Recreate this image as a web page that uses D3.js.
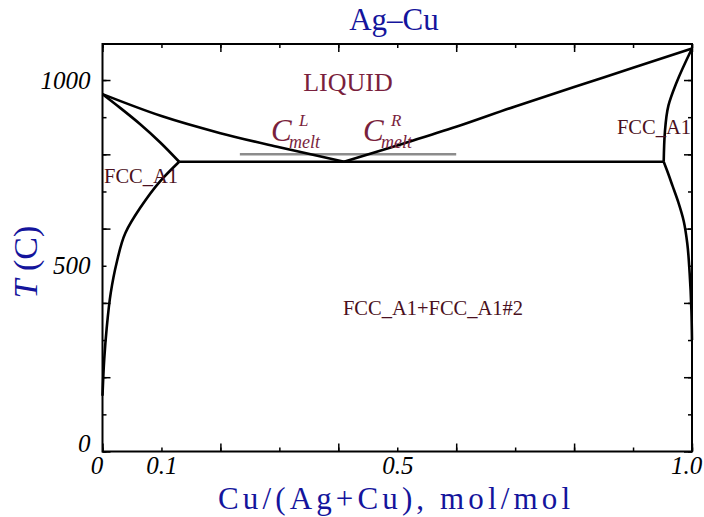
<!DOCTYPE html>
<html>
<head>
<meta charset="utf-8">
<script src="https://cdn.jsdelivr.net/npm/d3@7"></script>
<style>
  body { margin: 0; background: #fff; }
  svg { display: block; font-family: "Liberation Serif", "DejaVu Serif", serif; }
  .axis path { display: none; }
  .axis line { stroke: #000; stroke-width: 1.5; }
  .axis text { font-style: italic; font-size: 25px; fill: #000; font-family: "Liberation Serif", serif; }
</style>
</head>
<body>
<svg id="chart" width="704" height="517"></svg>
<script>
// === DATA ===

// Ag-rich liquidus: Ag melting point down to the eutectic
const liquidusAg = [[0, 962], [0.1, 903], [0.2, 857], [0.3, 819], [0.41, 780]];
// Cu-rich liquidus: eutectic up to Cu melting point
const liquidusCu = [[0.41, 780], [0.5, 824], [0.6, 874], [0.7, 929], [0.8, 981], [0.9, 1033], [1.0, 1085]];
// Ag-rich solidus and solvus (ordered by temperature)
const solidusAg = [[0.13, 780], [0.098, 832], [0.064, 881], [0.03, 925], [0, 962]];
const solvusAg = [[0, 150], [0.003, 250], [0.007, 330], [0.014, 427], [0.024, 508], [0.039, 589], [0.064, 656], [0.098, 728], [0.13, 780]];
// Cu-rich solidus and solvus (ordered by temperature)
const solidusCu = [[0.952, 780], [0.954, 860], [0.96, 931], [0.974, 994], [1.0, 1085]];
const solvusCu = [[1.0, 300], [0.999, 380], [0.996, 480], [0.992, 560], [0.986, 620], [0.977, 670], [0.967, 715], [0.958, 755], [0.952, 780]];
// eutectic isotherm and the grey melt reference line
const eutectic = [[0.13, 780], [0.952, 780]];
const meltLine = [[0.233, 800], [0.6, 800]];

const X_MINOR = d3.range(0, 1.0001, 0.1);
const X_MAJOR = d3.range(0, 1.0001, 0.2);
const X_LABELS = [0, 0.1, 0.5, 1.0];
const Y_MINOR = d3.range(0, 1001, 100);
const Y_MAJOR = d3.range(0, 1001, 200);
const Y_LABELS = [0, 500, 1000];

// === LAYOUT ===

const margin = { top: 44, right: 12, bottom: 65.5, left: 102.5 };
const W = 704, H = 517;
const innerW = W - margin.left - margin.right;
const innerH = H - margin.top - margin.bottom;

const BLUE = '#14149c';
const MAROON = '#7a1f3d';
const DARK = '#4a1020';

const svg = d3.select('#chart');

const x = d3.scaleLinear().domain([0, 1]).range([0, innerW]);
const y = d3.scaleLinear().domain([0, 1097]).range([innerH, 0]);

const g = svg.append('g').attr('transform', `translate(${margin.left},${margin.top})`);

// --- ticks (inward, on all four sides) ---
function tickAxis(axisFn, scale, values, size) {
    return axisFn(scale).tickValues(values).tickSizeInner(-size).tickSizeOuter(0).tickFormat('');
}

[[X_MINOR, 4], [X_MAJOR, 8]].forEach(([vals, s]) => {
    g.append('g').attr('class', 'axis').attr('transform', `translate(0,${innerH})`)
        .call(tickAxis(d3.axisBottom, x, vals, s));
    g.append('g').attr('class', 'axis')
        .call(tickAxis(d3.axisTop, x, vals, s));
});
[[Y_MINOR, 4], [Y_MAJOR, 8]].forEach(([vals, s]) => {
    g.append('g').attr('class', 'axis')
        .call(tickAxis(d3.axisLeft, y, vals, s));
    g.append('g').attr('class', 'axis').attr('transform', `translate(${innerW},0)`)
        .call(tickAxis(d3.axisRight, y, vals, s));
});

// --- tick labels ---
const xLab = g.append('g').attr('class', 'axis').attr('transform', `translate(0,${innerH})`)
    .call(d3.axisBottom(x).tickValues(X_LABELS).tickSize(0).tickPadding(5)
        .tickFormat(d => d === 1 ? '1.0' : String(d)));
// end labels sit a little left of their tick
xLab.selectAll('text').attr('dx', d => (d === 0 || d === 1) ? -6 : 0);

const yLab = g.append('g').attr('class', 'axis')
    .call(d3.axisLeft(y).tickValues(Y_LABELS).tickSize(0).tickPadding(12)
        .tickFormat(d => String(d)));
yLab.selectAll('text').attr('dy', d => d === 0 ? '0' : '0.32em');

// --- phase boundaries ---
const lineX = d3.line().x(d => x(d[0])).y(d => y(d[1])).curve(d3.curveMonotoneX);
const lineY = d3.line().x(d => x(d[0])).y(d => y(d[1])).curve(d3.curveMonotoneY);

g.append('path')
    .attr('d', lineX(meltLine))
    .attr('fill', 'none')
    .attr('stroke', '#8c8c8c')
    .attr('stroke-width', 2.5);

[[liquidusAg, lineX], [liquidusCu, lineX], [eutectic, lineX],
 [solidusAg, lineY], [solvusAg, lineY], [solidusCu, lineY], [solvusCu, lineY]].forEach(([pts, gen]) => {
    g.append('path')
        .attr('d', gen(pts))
        .attr('fill', 'none')
        .attr('stroke', '#000')
        .attr('stroke-width', 2.6)
        .attr('stroke-linejoin', 'round');
});

// frame
g.append('rect')
    .attr('width', innerW).attr('height', innerH)
    .attr('fill', 'none').attr('stroke', '#000').attr('stroke-width', 2);

// --- phase labels ---
function label(txt, px, py, size, color, anchor) {
    return svg.append('text')
        .attr('x', px).attr('y', py)
        .attr('font-size', size)
        .attr('fill', color)
        .attr('text-anchor', anchor || 'start')
        .text(txt);
}

label('LIQUID', 348, 91, 26, MAROON, 'middle');
label('FCC_A1', 104, 183, 20.5, DARK);
label('FCC_A1', 691, 134, 20.5, DARK, 'end');
label('FCC_A1+FCC_A1#2', 433, 315, 20.5, DARK, 'middle');

// C^L_melt and C^R_melt
function meltLabel(sup, cx) {
    const t = svg.append('text').attr('fill', MAROON).attr('font-style', 'italic');
    t.append('tspan').attr('x', cx).attr('y', 141).attr('font-size', 31).text('C');
    t.append('tspan').attr('x', cx + 28).attr('y', 126).attr('font-size', 17).text(sup);
    t.append('tspan').attr('x', cx + 18).attr('y', 148).attr('font-size', 18).text('melt');
}
meltLabel('L', 271);
meltLabel('R', 363);

// --- titles ---
svg.append('text')
    .attr('x', 394).attr('y', 30)
    .attr('text-anchor', 'middle')
    .attr('font-size', 31)
    .attr('fill', BLUE)
    .text('Ag\u2013Cu');

svg.append('text')
    .attr('x', 394).attr('y', 509)
    .attr('text-anchor', 'middle')
    .attr('font-size', 31)
    .attr('textLength', 352)
    .attr('lengthAdjust', 'spacing')
    .attr('fill', BLUE)
    .text('Cu/(Ag+Cu), mol/mol');

const yl = svg.append('text')
    .attr('transform', 'translate(37,262) rotate(-90)')
    .attr('text-anchor', 'middle')
    .attr('font-size', 34)
    .attr('fill', BLUE);
yl.append('tspan').attr('font-style', 'italic').text('T');
yl.append('tspan').text(' (C)');
</script>
</body>
</html>
